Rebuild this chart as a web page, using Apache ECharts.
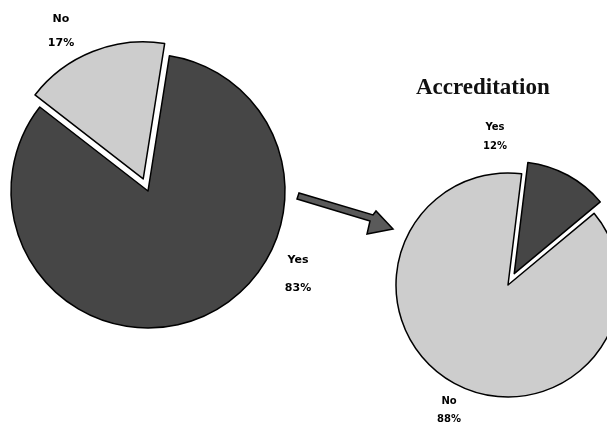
<!DOCTYPE html>
<html>
<head>
<meta charset="utf-8">
<script src="https://cdn.jsdelivr.net/npm/echarts@6/dist/echarts.min.js"></script>
<style>
  html, body { margin: 0; padding: 0; background: #fff; }
  #chart { width: 607px; height: 425px; }
</style>
</head>
<body>
<div id="chart"></div>
<script>
// left pie (before)
var leftNames = ['Yes', 'No'];
var leftValues = [83, 17];
// right pie: Accreditation
var rightNames = ['Yes', 'No'];
var rightValues = [12, 88];
var rightTitle = 'Accreditation';

var DARK = '#464646';
var LIGHT = '#cdcdcd';

// where each slice's label sits: [center x, top y, line height, font size]
var leftLabelPos = { Yes: [298, 246, 28, 11], No: [61, 7, 24, 11] };
var rightLabelPos = { Yes: [495, 118, 19, 10], No: [449, 392, 18, 10] };

function makeData(names, values, colors, pick) {
    return names.map(function (n, i) {
        return {
            name: n,
            value: values[i],
            selected: n === pick,
            itemStyle: { color: colors[i] }
        };
    });
}

// slice labels as text blocks, built from the data
function makeLabels(names, values, table) {
    var total = values.reduce(function (a, b) { return a + b; }, 0);
    return names.map(function (n, i) {
        var p = table[n];
        return {
            text: n + '\n' + Math.round(values[i] / total * 100) + '%',
            left: p[0],
            top: p[1],
            padding: 0,
            textAlign: 'center',
            textStyle: {
                fontFamily: 'DejaVu Sans',
                fontWeight: 'bold',
                fontSize: p[3],
                lineHeight: p[2],
                color: '#000'
            }
        };
    });
}

var chart = echarts.init(document.getElementById('chart'));

var pieBase = {
    type: 'pie',
    selectedMode: 'single',
    selectedOffset: 13,
    silent: true,
    itemStyle: { borderColor: '#000', borderWidth: 1.5 },
    select: { itemStyle: { borderColor: '#000', borderWidth: 1.5 } },
    label: { show: false },
    labelLine: { show: false }
};

var option = {
    animation: false,
    title: [{
        text: rightTitle,
        left: 416,
        top: 77,
        padding: 0,
        textStyle: {
            fontFamily: 'Liberation Serif',
            fontWeight: 'bold',
            fontSize: 23,
            color: '#111'
        }
    }].concat(makeLabels(leftNames, leftValues, leftLabelPos))
      .concat(makeLabels(rightNames, rightValues, rightLabelPos)),
    graphic: [{
        // arrow between the two pies
        type: 'polygon',
        shape: {
            points: [[297, 199], [370, 221], [367, 234], [393, 229], [376, 211], [373, 215], [299, 193]]
        },
        style: { fill: '#5a5a5a', stroke: '#000', lineWidth: 1.5 }
    }],
    series: [Object.assign({}, pieBase, {
        center: [148, 191],
        radius: 137,
        startAngle: 81,
        data: makeData(leftNames, leftValues, [DARK, LIGHT], 'No')
    }), Object.assign({}, pieBase, {
        center: [508, 285],
        radius: 112,
        startAngle: 83,
        data: makeData(rightNames, rightValues, [DARK, LIGHT], 'Yes')
    })]
};

chart.setOption(option);
</script>
</body>
</html>
